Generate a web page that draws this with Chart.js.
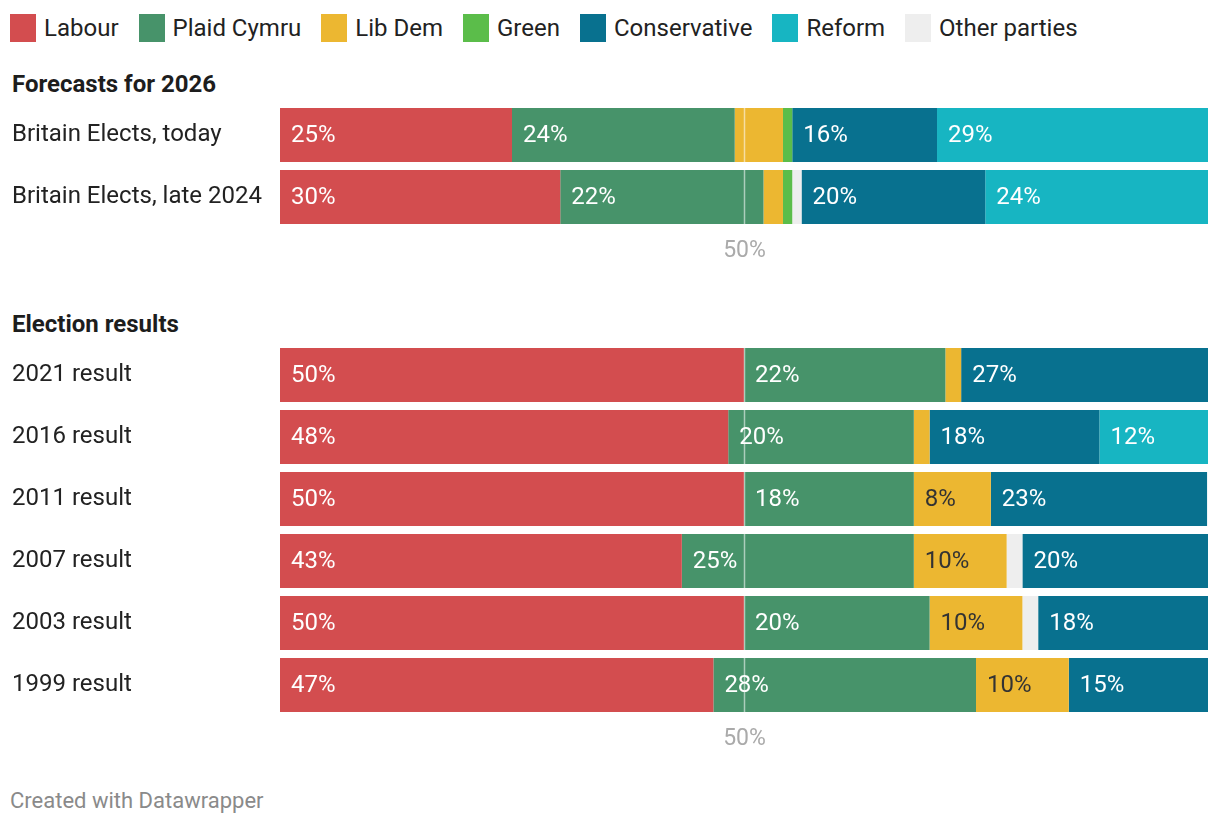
<!DOCTYPE html>
<html>
<head>
<meta charset="utf-8">
<script src="https://cdn.jsdelivr.net/npm/chart.js@4/dist/chart.umd.min.js"></script>
<style>
  body { margin: 0; background: #fff; font-family: Roboto, "Noto Sans", sans-serif; color: #222; }
  #page { position: relative; width: 1220px; height: 824px; overflow: hidden; }
  #legend { position: absolute; left: 10px; top: 14px; display: flex; }
  .item { display: flex; align-items: center; margin-right: 20px; font-size: 24px; line-height: 28px; color: #222; }
  .sw { width: 26px; height: 28px; margin-right: 8px; }
  .head { position: absolute; left: 12px; font-size: 24px; font-weight: bold; color: #1d1d1d; line-height: 28px; }
  .box { position: absolute; left: 0; width: 1220px; }
  #foot { position: absolute; left: 10px; top: 788px; font-size: 22px; color: #8a8a8a; line-height: 26px; }
</style>
</head>
<body>
<div id="page">
  <div id="legend"></div>
  <div class="head" style="top:70px">Forecasts for 2026</div>
  <div class="box" style="top:104px;height:170px"><canvas id="forecast"></canvas></div>
  <div class="head" style="top:310px">Election results</div>
  <div class="box" style="top:344px;height:418px"><canvas id="results"></canvas></div>
  <div id="foot">Created with Datawrapper</div>
</div>
<script>
// parties, in stacking order
const parties = ['Labour', 'Plaid Cymru', 'Lib Dem', 'Green', 'Other parties', 'Conservative', 'Reform'];
const colors = ['#d34d4f', '#47936a', '#ecb731', '#5bbd4a', '#eeeeee', '#08718f', '#17b5c2'];
const legendOrder = ['Labour', 'Plaid Cymru', 'Lib Dem', 'Green', 'Conservative', 'Reform', 'Other parties'];

// share of seats (%), one array per party
const forecastRows = ['Britain Elects, today', 'Britain Elects, late 2024'];
const fLabour = [25.0, 30.2];
const fPlaid = [24.0, 21.9];
const fLibDem = [5.2, 2.1];
const fGreen = [1.0, 1.0];
const fOther = [0, 1.0];
const fCon = [15.6, 19.8];
const fReform = [29.2, 24.0];

const resultRows = ['2021 result', '2016 result', '2011 result', '2007 result', '2003 result', '1999 result'];
const rLabour = [50.0, 48.3, 50.0, 43.3, 50.0, 46.7];
const rPlaid = [21.7, 20.0, 18.3, 25.0, 20.0, 28.3];
const rLibDem = [1.7, 1.7, 8.3, 10.0, 10.0, 10.0];
const rGreen = [0, 0, 0, 0, 0, 0];
const rOther = [0, 0, 0, 1.7, 1.7, 0];
const rCon = [26.7, 18.3, 23.3, 20.0, 18.3, 15.0];
const rReform = [0, 11.7, 0, 0, 0, 0];

// legend
const lg = document.getElementById('legend');
legendOrder.forEach(p => {
  const d = document.createElement('div');
  d.className = 'item';
  d.innerHTML = '<span class="sw" style="background:' + colors[parties.indexOf(p)] + '"></span>' + p;
  lg.appendChild(d);
});

// labels inside bars + 50% marker
const barLabels = {
  id: 'barLabels',
  afterDatasetsDraw(chart) {
    const ctx = chart.ctx;
    const x = chart.scales.x;
    const area = chart.chartArea;
    ctx.save();
    ctx.font = '24px Roboto';
    ctx.textBaseline = 'middle';
    chart.data.datasets.forEach((ds, i) => {
      if (ds.label === 'Other parties') return;
      chart.getDatasetMeta(i).data.forEach((bar, j) => {
        const v = ds.data[j];
        if (v < 6) return;
        const left = Math.min(bar.x, bar.base);
        ctx.fillStyle = ds.label === 'Lib Dem' ? '#333' : '#fff';
        ctx.fillText(Math.round(v) + '%', left + 11, bar.y + 1);
      });
    });
    // 50% line
    const x50 = Math.round(x.getPixelForValue(50)) + 0.5;
    ctx.strokeStyle = 'rgba(255,255,255,0.55)';
    ctx.lineWidth = 1.5;
    ctx.beginPath();
    ctx.moveTo(x50, area.top + 4);
    ctx.lineTo(x50, area.bottom - 4);
    ctx.stroke();
    ctx.fillStyle = '#aaa';
    ctx.font = '23px Roboto';
    ctx.textAlign = 'center';
    ctx.fillText('50%', x50, area.bottom + 23);
    ctx.restore();
  }
};

function makeChart(id, rows, series) {
  return new Chart(document.getElementById(id), {
    type: 'bar',
    data: {
      labels: rows,
      datasets: parties.map((p, i) => ({
        label: p,
        data: series[i],
        backgroundColor: colors[i],
        borderWidth: 0,
        barPercentage: 54 / 62,
        categoryPercentage: 1
      }))
    },
    options: {
      indexAxis: 'y',
      responsive: true,
      maintainAspectRatio: false,
      animation: false,
      layout: { padding: { left: 12, right: 12, top: 0, bottom: 46 } },
      plugins: { legend: { display: false }, tooltip: { enabled: false } },
      scales: {
        x: { stacked: true, min: 0, max: 100, display: false },
        y: {
          stacked: true,
          grid: { display: false },
          border: { display: false },
          ticks: { crossAlign: 'far', color: '#222', font: { family: 'Roboto', size: 24 } },
          afterFit(scale) {
            scale.width = 268;
            scale.paddingTop = 0;
            scale.paddingBottom = 0;
          }
        }
      }
    },
    plugins: [barLabels]
  });
}

makeChart('forecast', forecastRows, [fLabour, fPlaid, fLibDem, fGreen, fOther, fCon, fReform]);
makeChart('results', resultRows, [rLabour, rPlaid, rLibDem, rGreen, rOther, rCon, rReform]);
</script>
</body>
</html>
